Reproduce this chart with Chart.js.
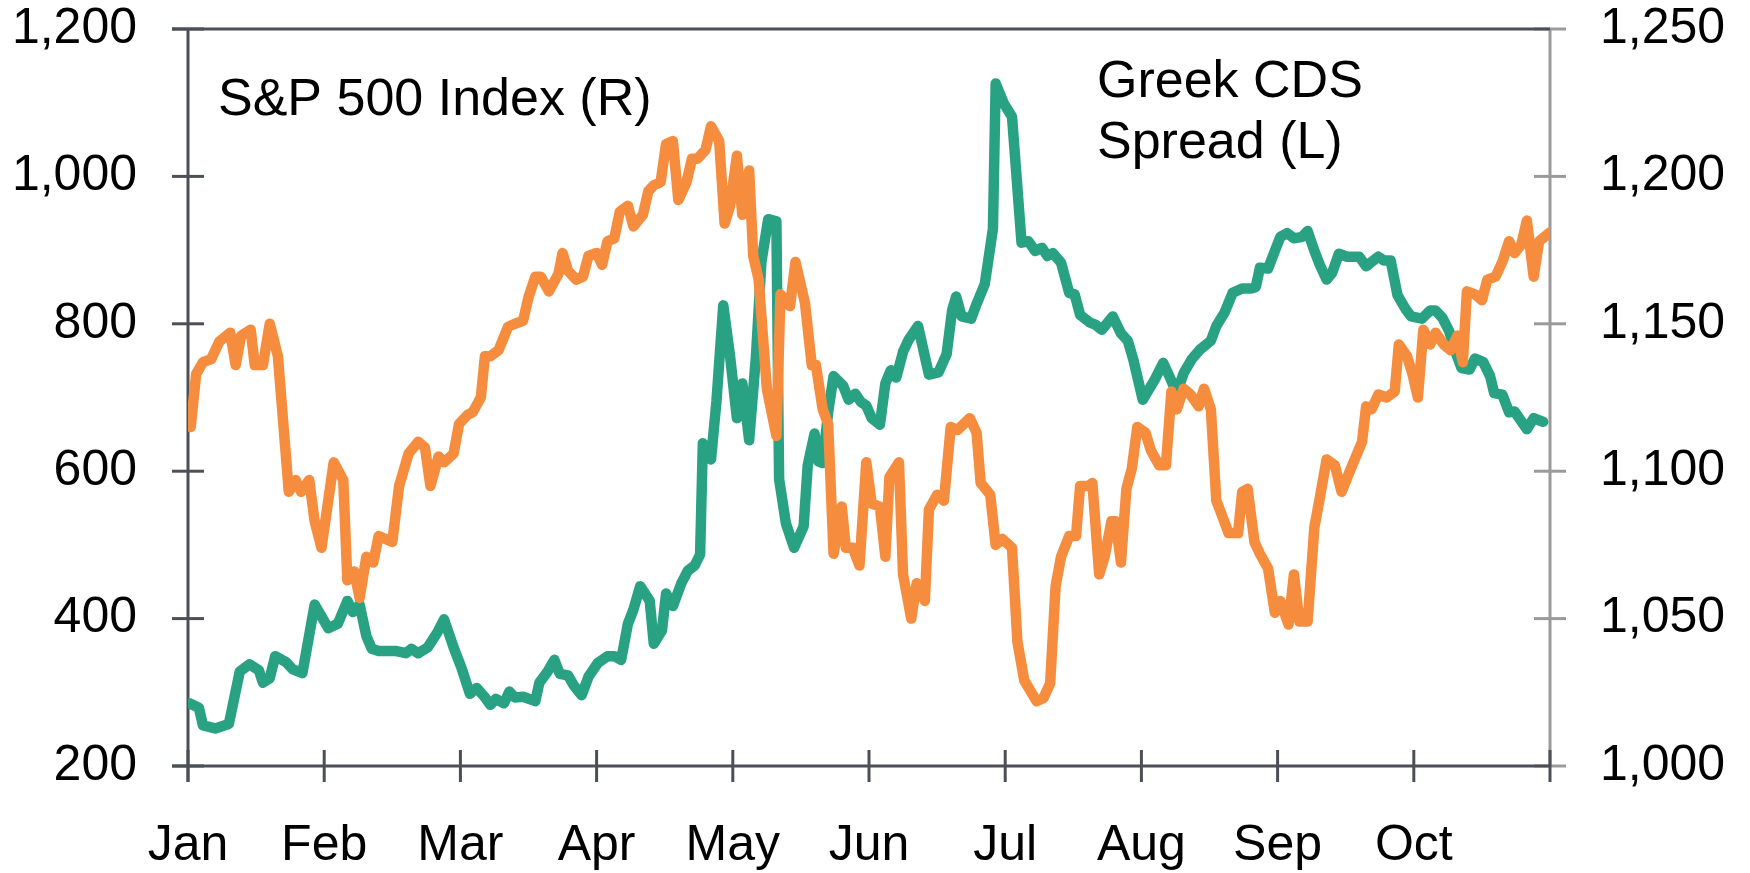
<!DOCTYPE html>
<html>
<head>
<meta charset="utf-8">
<script src="https://cdn.jsdelivr.net/npm/chart.js@4/dist/chart.umd.min.js"></script>
<style>
  html, body { margin: 0; padding: 0; background: #fff; }
  canvas { display: block; }
</style>
</head>
<body>
<canvas id="grafico" width="1750" height="873"></canvas>
<script>
// months on the x axis (0 = start of Jan, 10 = end of Oct)
const monthLabels = ['Jan', 'Feb', 'Mar', 'Apr', 'May', 'Jun', 'Jul', 'Aug', 'Sep', 'Oct'];

// Greek CDS spread, left axis: [month position, bp]
const cdsSpread = [
    [0.01,285],[0.08,279],[0.11,255],[0.20,251],[0.30,257],[0.38,328],[0.45,338],[0.52,330],[0.55,313],[0.60,319],
    [0.64,349],[0.72,341],[0.77,331],[0.84,326],[0.93,419],[1.03,387],[1.10,393],[1.17,424],[1.21,409],[1.26,419],
    [1.31,376],[1.35,359],[1.40,356],[1.53,356],[1.60,353],[1.64,359],[1.69,353],[1.76,361],[1.83,381],[1.88,399],
    [1.95,361],[2.01,332],[2.07,298],[2.12,306],[2.18,293],[2.22,283],[2.26,291],[2.32,285],[2.36,301],[2.40,293],
    [2.46,294],[2.55,288],[2.58,313],[2.64,328],[2.69,344],[2.73,325],[2.79,323],[2.83,310],[2.89,296],[2.94,321],
    [3.01,340],[3.08,349],[3.13,349],[3.18,344],[3.23,393],[3.27,412],[3.32,444],[3.39,424],[3.42,366],[3.48,384],
    [3.51,434],[3.56,417],[3.62,447],[3.67,465],[3.72,472],[3.76,487],[3.78,638],[3.84,616],[3.88,695],[3.93,825],
    [3.98,756],[4.03,672],[4.07,719],[4.12,642],[4.17,756],[4.21,884],[4.26,942],[4.32,939],[4.34,589],[4.39,529],
    [4.45,496],[4.52,525],[4.55,608],[4.60,651],[4.63,613],[4.66,611],[4.70,680],[4.74,729],[4.81,716],[4.85,697],
    [4.90,705],[4.94,694],[4.98,689],[5.02,672],[5.08,663],[5.12,719],[5.16,737],[5.20,727],[5.25,762],[5.29,778],
    [5.36,797],[5.44,731],[5.51,734],[5.57,759],[5.61,818],[5.64,837],[5.68,810],[5.75,807],[5.79,827],[5.85,854],
    [5.91,929],[5.93,1126],[5.99,1099],[6.05,1081],[6.12,910],[6.17,912],[6.22,899],[6.27,903],[6.31,892],[6.35,896],
    [6.41,883],[6.47,842],[6.51,840],[6.55,812],[6.62,802],[6.66,799],[6.71,792],[6.79,810],[6.85,787],[6.90,777],
    [6.94,752],[7.01,697],[7.10,725],[7.16,747],[7.20,731],[7.26,706],[7.31,733],[7.37,752],[7.43,765],[7.51,777],
    [7.55,797],[7.61,815],[7.67,842],[7.74,848],[7.81,848],[7.84,850],[7.87,876],[7.93,875],[7.98,899],[8.02,918],
    [8.07,923],[8.12,916],[8.18,918],[8.22,926],[8.27,899],[8.31,880],[8.36,860],[8.40,869],[8.45,895],[8.51,891],
    [8.60,891],[8.65,878],[8.69,884],[8.74,891],[8.78,886],[8.83,886],[8.88,839],[8.94,820],[8.98,810],[9.06,807],
    [9.12,818],[9.16,818],[9.21,808],[9.26,790],[9.30,765],[9.35,740],[9.41,738],[9.45,753],[9.51,748],[9.56,729],
    [9.59,706],[9.65,704],[9.70,680],[9.74,681],[9.83,657],[9.88,672],[9.95,667]
];

// S&P 500 index, right axis: [month position, index level]
const spxIndex = [
    [0.02,1115],[0.06,1133],[0.11,1137],[0.17,1138],[0.23,1144],[0.31,1147],[0.35,1136],[0.39,1146],[0.46,1148],[0.49,1136],
    [0.55,1136],[0.60,1150],[0.66,1139],[0.74,1093],[0.79,1097],[0.83,1093],[0.89,1097],[0.93,1083],[0.98,1074],[1.07,1103],
    [1.14,1097],[1.17,1063],[1.22,1066],[1.26,1057],[1.31,1071],[1.36,1069],[1.40,1078],[1.50,1076],[1.55,1095],[1.62,1106],
    [1.69,1110],[1.74,1108],[1.78,1095],[1.84,1105],[1.88,1103],[1.95,1106],[1.99,1116],[2.05,1119],[2.09,1120],[2.15,1125],
    [2.18,1139],[2.22,1139],[2.28,1141],[2.35,1149],[2.40,1150],[2.46,1151],[2.50,1159],[2.55,1166],[2.59,1166],[2.65,1161],
    [2.72,1167],[2.75,1174],[2.79,1168],[2.85,1165],[2.90,1166],[2.94,1173],[3.00,1174],[3.04,1170],[3.08,1178],[3.13,1179],
    [3.17,1188],[3.23,1190],[3.27,1183],[3.34,1187],[3.38,1195],[3.42,1197],[3.47,1198],[3.51,1211],[3.56,1212],[3.60,1192],
    [3.66,1198],[3.70,1206],[3.74,1206],[3.80,1209],[3.84,1217],[3.90,1212],[3.94,1184],[3.98,1190],[4.03,1207],[4.07,1187],
    [4.12,1202],[4.15,1173],[4.19,1165],[4.25,1128],[4.32,1112],[4.35,1160],[4.42,1156],[4.46,1171],[4.53,1157],[4.58,1136],
    [4.61,1136],[4.66,1121],[4.70,1116],[4.74,1072],[4.80,1088],[4.83,1074],[4.88,1074],[4.93,1068],[4.98,1103],[5.02,1089],
    [5.08,1088],[5.12,1071],[5.15,1098],[5.22,1103],[5.25,1065],[5.31,1050],[5.35,1062],[5.41,1056],[5.44,1087],[5.50,1092],
    [5.55,1090],[5.60,1115],[5.65,1114],[5.74,1118],[5.79,1113],[5.82,1096],[5.89,1092],[5.93,1075],[5.98,1077],[6.05,1074],
    [6.09,1042],[6.14,1029],[6.23,1022],[6.28,1023],[6.33,1028],[6.37,1061],[6.41,1071],[6.47,1078],[6.52,1078],[6.55,1095],
    [6.61,1095],[6.64,1096],[6.69,1065],[6.73,1071],[6.78,1083],[6.81,1083],[6.85,1069],[6.89,1094],[6.93,1101],[6.97,1115],
    [7.03,1113],[7.07,1107],[7.13,1102],[7.18,1102],[7.22,1127],[7.26,1121],[7.31,1128],[7.36,1126],[7.42,1122],[7.46,1128],
    [7.51,1121],[7.55,1090],[7.60,1084],[7.64,1079],[7.71,1079],[7.74,1093],[7.78,1094],[7.83,1076],[7.87,1072],[7.93,1067],
    [7.98,1052],[8.02,1056],[8.08,1048],[8.12,1065],[8.16,1049],[8.22,1049],[8.27,1081],[8.31,1091],[8.36,1104],[8.42,1102],
    [8.47,1093],[8.53,1100],[8.62,1110],[8.65,1122],[8.69,1121],[8.74,1126],[8.80,1125],[8.86,1127],[8.89,1143],[8.95,1139],
    [8.99,1133],[9.03,1125],[9.07,1148],[9.12,1143],[9.16,1147],[9.22,1143],[9.27,1141],[9.32,1146],[9.36,1137],[9.39,1161],
    [9.45,1160],[9.50,1158],[9.54,1165],[9.60,1166],[9.65,1171],[9.70,1178],[9.74,1174],[9.79,1177],[9.83,1185],[9.88,1166],
    [9.92,1178],[10.00,1181]
];

const leftTicks = { min: 200, max: 1200, step: 200 };
const rightTicks = { min: 1000, max: 1250, step: 50 };

const FONT = "'Liberation Sans', Arial, Helvetica, sans-serif";
const DARK = '#4b5056';
const LIGHT = '#9a9a9a';

const toPoints = arr => arr.map(p => ({ x: p[0], y: p[1] }));
const fmt = v => Number(v).toLocaleString('en-US');

// axis lines and ticks that cross the axis, drawn under the lines
const axisMarks = {
    id: 'axisMarks',
    beforeDatasetsDraw(chart) {
        const { ctx, chartArea: a, scales } = chart;
        const seg = (x1, y1, x2, y2) => { ctx.beginPath(); ctx.moveTo(x1, y1); ctx.lineTo(x2, y2); ctx.stroke(); };
        ctx.save();
        ctx.lineWidth = 3;
        ctx.lineCap = 'butt';

        ctx.strokeStyle = LIGHT;
        seg(a.right, a.top, a.right, a.bottom);
        scales.y2.ticks.forEach(t => {
            const y = scales.y2.getPixelForValue(t.value);
            seg(a.right - 16, y, a.right + 16, y);
        });

        ctx.strokeStyle = DARK;
        seg(a.left - 16, a.top, a.right, a.top);
        seg(a.left, a.top, a.left, a.bottom + 16);
        seg(a.left - 16, a.bottom, a.right, a.bottom);
        scales.y.ticks.forEach(t => {
            const y = scales.y.getPixelForValue(t.value);
            seg(a.left - 16, y, a.left + 16, y);
        });
        scales.x.ticks.forEach(t => {
            const x = scales.x.getPixelForValue(t.value);
            seg(x, a.bottom - 16, x, a.bottom + 16);
        });
        ctx.restore();
    }
};

const seriesNotes = {
    id: 'seriesNotes',
    afterDraw(chart) {
        const ctx = chart.ctx;
        ctx.save();
        ctx.fillStyle = '#000';
        ctx.font = '52px ' + FONT;
        ctx.textAlign = 'left';
        ctx.textBaseline = 'alphabetic';
        ctx.fillText('S&P 500 Index (R)', 218, 115);
        ctx.fillText('Greek CDS', 1097, 97);
        ctx.fillText('Spread (L)', 1097, 158);
        ctx.restore();
    }
};

// fixed plot frame: left edge 188, right edge 1550, top 29, bottom 766
const fitY = width => s => {
    s.width = width;
    s.paddingTop = 29;
    s.paddingBottom = 0;
};

const ctx = document.getElementById('grafico').getContext('2d');
new Chart(ctx, {
    type: 'line',
    data: {
        datasets: [
            {
                label: 'S&P 500 Index (R)',
                data: toPoints(spxIndex),
                yAxisID: 'y2',
                borderColor: '#f68d3e',
                borderWidth: 10.5,
                pointRadius: 0,
                tension: 0,
                borderJoinStyle: 'round',
                borderCapStyle: 'round'
            },
            {
                label: 'Greek CDS Spread (L)',
                data: toPoints(cdsSpread),
                yAxisID: 'y',
                borderColor: '#29a283',
                borderWidth: 10.5,
                pointRadius: 0,
                tension: 0,
                borderJoinStyle: 'round',
                borderCapStyle: 'round'
            }
        ]
    },
    options: {
        responsive: false,
        animation: false,
        devicePixelRatio: 1,
        layout: { padding: 0 },
        plugins: {
            legend: { display: false },
            tooltip: { enabled: false }
        },
        scales: {
            x: {
                type: 'linear',
                min: 0,
                max: 10,
                grid: { display: false, drawTicks: false },
                border: { display: false },
                ticks: {
                    stepSize: 1,
                    autoSkip: false,
                    maxRotation: 0,
                    padding: 50,
                    color: '#000',
                    font: { family: FONT, size: 50 },
                    callback: v => monthLabels[v] || ''
                },
                afterFit: s => {
                    s.height = 107;
                    s.paddingLeft = 0;
                    s.paddingRight = 0;
                }
            },
            y: {
                position: 'left',
                min: leftTicks.min,
                max: leftTicks.max,
                grid: { display: false, drawTicks: false },
                border: { display: false },
                ticks: {
                    stepSize: leftTicks.step,
                    padding: 51,
                    color: '#000',
                    font: { family: FONT, size: 50 },
                    callback: fmt
                },
                afterFit: fitY(188)
            },
            y2: {
                position: 'right',
                min: rightTicks.min,
                max: rightTicks.max,
                grid: { display: false, drawTicks: false },
                border: { display: false },
                ticks: {
                    stepSize: rightTicks.step,
                    padding: 50,
                    color: '#000',
                    font: { family: FONT, size: 50 },
                    callback: fmt
                },
                afterFit: fitY(200)
            }
        }
    },
    plugins: [axisMarks, seriesNotes]
});
</script>
</body>
</html>
